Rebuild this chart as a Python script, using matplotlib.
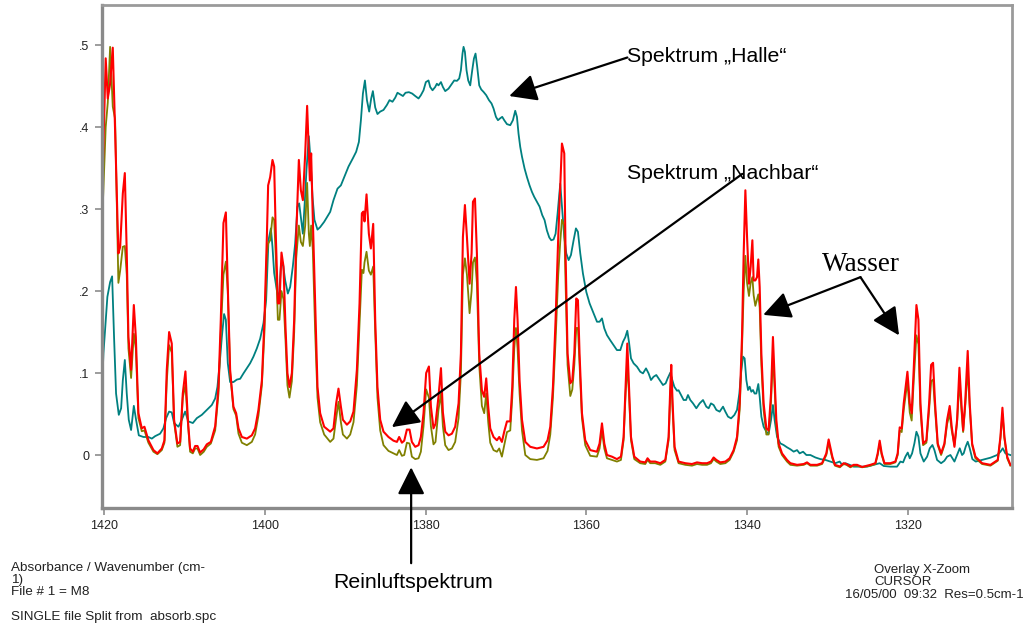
import matplotlib
matplotlib.use("Agg")
import matplotlib.pyplot as plt

plt.rcParams['font.family'] = ['Liberation Sans', 'DejaVu Sans']

# wavenumber grid shared by the clean-air ("Reinluft") and neighbour ("Nachbar") spectra
wn = [
    1420.30, 1420.10, 1419.80, 1419.54, 1419.25, 1418.92, 1418.63, 1418.22, 1418.00, 1417.67,
    1417.42, 1417.18, 1416.97, 1416.64, 1416.30, 1416.05, 1415.73, 1415.31, 1414.98, 1414.49,
    1413.86, 1413.37, 1412.82, 1412.49, 1412.20, 1411.91, 1411.58, 1411.29, 1410.88, 1410.54,
    1410.21, 1409.88, 1409.58, 1409.30, 1408.96, 1408.67, 1408.38, 1408.05, 1407.60, 1407.22,
    1406.72, 1406.18, 1405.77, 1405.48, 1405.15, 1404.85, 1404.61, 1404.32, 1403.91, 1403.57,
    1403.28, 1402.86, 1402.24, 1401.62, 1401.21, 1400.80, 1400.37, 1400.05, 1399.75, 1399.59,
    1399.34, 1399.05, 1398.84, 1398.63, 1398.38, 1398.18, 1397.93, 1397.68, 1397.43, 1397.19,
    1396.94, 1396.64, 1396.35, 1396.10, 1395.77, 1395.52, 1395.27, 1394.98, 1394.74, 1394.53,
    1394.40, 1394.24, 1394.03, 1393.74, 1393.45, 1393.12, 1392.62, 1391.87, 1391.46, 1391.13,
    1390.84, 1390.54, 1390.29, 1389.79, 1389.38, 1388.97, 1388.55, 1388.22, 1387.93, 1387.73,
    1387.60, 1387.35, 1387.06, 1386.81, 1386.52, 1386.27, 1385.99, 1385.65, 1385.24, 1384.62,
    1384.00, 1383.57, 1383.29, 1382.95, 1382.66, 1382.33, 1382.00, 1381.71, 1381.29, 1380.88,
    1380.59, 1380.26, 1379.93, 1379.59, 1379.34, 1379.02, 1378.77, 1378.40, 1378.09, 1377.85,
    1377.56, 1377.15, 1376.73, 1376.32, 1375.90, 1375.61, 1375.36, 1375.11, 1374.86, 1374.53,
    1374.28, 1374.11, 1373.86, 1373.62, 1373.33, 1373.00, 1372.71, 1372.46, 1372.21, 1371.96,
    1371.55, 1371.13, 1370.84, 1370.51, 1370.22, 1369.88, 1369.47, 1369.22, 1368.97, 1368.76,
    1368.56, 1368.31, 1368.01, 1367.60, 1366.98, 1366.15, 1365.33, 1364.83, 1364.49, 1364.16,
    1363.83, 1363.50, 1363.25, 1363.04, 1362.75, 1362.59, 1362.34, 1362.00, 1361.75, 1361.50,
    1361.26, 1361.05, 1360.85, 1360.55, 1360.14, 1359.52, 1358.69, 1358.36, 1358.06, 1357.77,
    1357.44, 1356.82, 1356.20, 1355.70, 1355.37, 1355.12, 1354.91, 1354.70, 1354.45, 1354.04,
    1353.30, 1352.67, 1352.39, 1352.06, 1351.44, 1350.80, 1350.18, 1349.77, 1349.56, 1349.44,
    1349.27, 1349.03, 1348.53, 1347.69, 1346.86, 1346.24, 1345.61, 1344.99, 1344.50, 1344.17,
    1343.83, 1343.34, 1342.71, 1342.18, 1341.68, 1341.26, 1340.93, 1340.64, 1340.43, 1340.22,
    1340.01, 1339.77, 1339.56, 1339.35, 1339.19, 1338.98, 1338.77, 1338.61, 1338.44, 1338.23,
    1337.95, 1337.61, 1337.33, 1337.03, 1336.79, 1336.62, 1336.37, 1336.08, 1335.66, 1335.04,
    1334.62, 1333.79, 1332.96, 1332.55, 1332.13, 1331.30, 1330.68, 1330.15, 1329.86, 1329.40,
    1329.08, 1328.46, 1328.00, 1327.65, 1327.16, 1326.75, 1326.32, 1325.70, 1324.67, 1324.05,
    1323.76, 1323.51, 1323.26, 1322.92, 1322.18, 1321.56, 1321.27, 1321.02, 1320.77, 1320.52,
    1320.06, 1319.77, 1319.53, 1319.28, 1318.94, 1318.69, 1318.44, 1318.11, 1317.70, 1317.36,
    1317.11, 1316.87, 1316.62, 1316.29, 1315.87, 1315.46, 1315.12, 1314.80, 1314.55, 1314.21,
    1313.88, 1313.59, 1313.34, 1313.13, 1312.88, 1312.56, 1312.31, 1312.01, 1311.60, 1310.77,
    1309.73, 1308.82, 1308.49, 1308.24, 1307.99, 1307.65, 1307.25,
]

# spectrum "Nachbar" (red)
nachbar = [
    0.300, 0.370, 0.484, 0.435, 0.453, 0.497, 0.396, 0.246, 0.254, 0.319,
    0.344, 0.246, 0.144, 0.104, 0.183, 0.144, 0.051, 0.0325, 0.0345, 0.018,
    0.006, 0.002, 0.008, 0.018, 0.104, 0.150, 0.136, 0.043, 0.014, 0.016,
    0.075, 0.102, 0.043, 0.008, 0.004, 0.011, 0.011, 0.003, 0.007, 0.013,
    0.016, 0.035, 0.083, 0.165, 0.283, 0.296, 0.205, 0.104, 0.059, 0.051,
    0.0325, 0.022, 0.020, 0.024, 0.0325, 0.055, 0.091, 0.165, 0.266, 0.329,
    0.339, 0.360, 0.352, 0.266, 0.185, 0.185, 0.247, 0.230, 0.156, 0.100,
    0.083, 0.100, 0.165, 0.266, 0.360, 0.323, 0.311, 0.368, 0.426, 0.368,
    0.335, 0.368, 0.287, 0.185, 0.083, 0.051, 0.0345, 0.0285, 0.0325, 0.063,
    0.081, 0.059, 0.043, 0.037, 0.041, 0.053, 0.104, 0.185, 0.295, 0.297,
    0.285, 0.318, 0.270, 0.252, 0.282, 0.165, 0.083, 0.043, 0.0285, 0.022,
    0.0175, 0.016, 0.022, 0.015, 0.0175, 0.031, 0.031, 0.016, 0.010, 0.012,
    0.022, 0.051, 0.100, 0.108, 0.059, 0.0325, 0.038, 0.071, 0.106, 0.052,
    0.0285, 0.024, 0.026, 0.0345, 0.063, 0.124, 0.266, 0.305, 0.266, 0.209,
    0.246, 0.309, 0.313, 0.246, 0.124, 0.079, 0.071, 0.0935, 0.059, 0.0325,
    0.022, 0.018, 0.022, 0.016, 0.0285, 0.041, 0.041, 0.083, 0.165, 0.205,
    0.165, 0.091, 0.043, 0.016, 0.010, 0.008, 0.010, 0.018, 0.0345, 0.083,
    0.165, 0.266, 0.327, 0.380, 0.368, 0.246, 0.124, 0.0875, 0.091, 0.124,
    0.191, 0.189, 0.124, 0.051, 0.018, 0.006, 0.004, 0.014, 0.0386, 0.014,
    0.000, -0.002, -0.005, -0.002, 0.022, 0.083, 0.136, 0.083, 0.022, -0.002,
    -0.008, -0.009, -0.004, -0.008, -0.008, -0.010, -0.006, 0.022, 0.083, 0.110,
    0.063, 0.010, -0.008, -0.010, -0.011, -0.009, -0.010, -0.010, -0.008, -0.003,
    -0.006, -0.009, -0.008, -0.004, 0.006, 0.022, 0.063, 0.144, 0.246, 0.323,
    0.266, 0.209, 0.230, 0.262, 0.213, 0.213, 0.217, 0.2386, 0.205, 0.124,
    0.063, 0.0325, 0.030, 0.075, 0.144, 0.104, 0.043, 0.014, 0.002, -0.006,
    -0.010, -0.012, -0.011, -0.009, -0.012, -0.012, -0.010, 0.002, 0.019, -0.002,
    -0.012, -0.014, -0.010, -0.011, -0.014, -0.012, -0.012, -0.0146, -0.012, -0.010,
    0.002, 0.0175, 0.002, -0.010, -0.010, -0.008, 0.002, 0.0337, 0.0325, 0.063,
    0.1016, 0.063, 0.051, 0.104, 0.183, 0.165, 0.063, 0.014, 0.018, 0.063,
    0.110, 0.1125, 0.063, 0.014, 0.002, 0.014, 0.043, 0.0598, 0.0345, 0.010,
    0.043, 0.1065, 0.063, 0.030, 0.063, 0.127, 0.063, 0.014, -0.002, -0.010,
    -0.012, -0.006, 0.022, 0.0577, 0.022, -0.002, -0.012,
]

# clean-air spectrum (olive)
reinluft = [
    0.270, 0.320, 0.400, 0.430, 0.498, 0.425, 0.410, 0.210, 0.225, 0.254,
    0.255, 0.220, 0.130, 0.094, 0.148, 0.130, 0.045, 0.029, 0.030, 0.015,
    0.004, 0.001, 0.006, 0.015, 0.090, 0.134, 0.125, 0.040, 0.010, 0.012,
    0.070, 0.085, 0.040, 0.004, 0.002, 0.008, 0.008, 0.000, 0.004, 0.010,
    0.014, 0.030, 0.075, 0.150, 0.220, 0.236, 0.200, 0.100, 0.056, 0.048,
    0.026, 0.015, 0.012, 0.016, 0.025, 0.048, 0.085, 0.150, 0.245, 0.258,
    0.262, 0.290, 0.287, 0.240, 0.165, 0.165, 0.200, 0.190, 0.140, 0.085,
    0.070, 0.090, 0.150, 0.240, 0.280, 0.260, 0.255, 0.280, 0.332, 0.270,
    0.255, 0.280, 0.250, 0.150, 0.070, 0.040, 0.025, 0.016, 0.020, 0.045,
    0.065, 0.040, 0.025, 0.020, 0.025, 0.040, 0.085, 0.160, 0.226, 0.222,
    0.235, 0.248, 0.225, 0.220, 0.230, 0.150, 0.070, 0.030, 0.012, 0.005,
    0.002, 0.000, 0.006, -0.001, 0.000, 0.015, 0.014, -0.002, -0.005, -0.004,
    0.004, 0.035, 0.080, 0.070, 0.035, 0.013, 0.016, 0.055, 0.075, 0.035,
    0.012, 0.006, 0.008, 0.016, 0.045, 0.100, 0.220, 0.240, 0.220, 0.173,
    0.200, 0.235, 0.241, 0.210, 0.110, 0.060, 0.051, 0.075, 0.040, 0.015,
    0.006, 0.004, 0.008, -0.002, 0.012, 0.028, 0.030, 0.070, 0.130, 0.155,
    0.130, 0.075, 0.030, 0.000, -0.005, -0.006, -0.004, 0.005, 0.025, 0.070,
    0.140, 0.220, 0.260, 0.287, 0.280, 0.210, 0.110, 0.072, 0.080, 0.110,
    0.155, 0.155, 0.110, 0.045, 0.012, -0.001, -0.002, 0.008, 0.030, 0.008,
    -0.004, -0.006, -0.008, -0.006, 0.018, 0.075, 0.110, 0.075, 0.018, -0.005,
    -0.010, -0.011, -0.006, -0.010, -0.010, -0.012, -0.008, 0.018, 0.075, 0.095,
    0.055, 0.006, -0.010, -0.012, -0.013, -0.011, -0.012, -0.012, -0.010, -0.005,
    -0.008, -0.011, -0.010, -0.006, 0.004, 0.018, 0.055, 0.130, 0.200, 0.243,
    0.210, 0.194, 0.210, 0.217, 0.195, 0.182, 0.190, 0.196, 0.180, 0.110,
    0.055, 0.025, 0.025, 0.065, 0.120, 0.090, 0.035, 0.010, 0.000, -0.008,
    -0.012, -0.013, -0.012, -0.010, -0.013, -0.013, -0.011, 0.000, 0.015, -0.004,
    -0.013, -0.015, -0.011, -0.012, -0.015, -0.013, -0.013, -0.015, -0.013, -0.011,
    0.000, 0.014, 0.000, -0.011, -0.011, -0.009, 0.000, 0.030, 0.028, 0.055,
    0.090, 0.052, 0.042, 0.090, 0.146, 0.135, 0.055, 0.012, 0.015, 0.055,
    0.090, 0.092, 0.055, 0.012, 0.000, 0.012, 0.038, 0.050, 0.030, 0.012,
    0.040, 0.090, 0.055, 0.028, 0.058, 0.105, 0.058, 0.012, -0.004, -0.011,
    -0.013, -0.007, 0.020, 0.050, 0.020, -0.004, -0.013,
]

# spectrum "Halle" (teal), own wavenumber grid
wn_halle = [
    1420.30, 1420.08, 1419.59, 1419.25, 1419.00, 1418.76, 1418.51, 1418.17, 1417.88, 1417.67,
    1417.42, 1417.18, 1416.93, 1416.64, 1416.30, 1416.02, 1415.68, 1415.11, 1414.49, 1414.06,
    1413.65, 1413.03, 1412.62, 1412.28, 1411.91, 1411.58, 1411.29, 1410.75, 1410.33, 1409.92,
    1409.51, 1408.96, 1408.46, 1407.84, 1407.22, 1406.60, 1406.18, 1405.90, 1405.65, 1405.35,
    1405.07, 1404.85, 1404.61, 1404.32, 1403.91, 1403.49, 1403.07, 1402.66, 1402.24, 1401.83,
    1401.42, 1401.00, 1400.58, 1400.17, 1399.84, 1399.55, 1399.25, 1399.05, 1398.84, 1398.51,
    1398.26, 1398.01, 1397.76, 1397.47, 1397.14, 1396.85, 1396.52, 1396.23, 1395.94, 1395.73,
    1395.48, 1395.27, 1395.02, 1394.82, 1394.53, 1394.32, 1394.07, 1393.83, 1393.45, 1393.12,
    1392.62, 1391.87, 1391.46, 1390.96, 1390.54, 1390.13, 1389.59, 1389.05, 1388.64, 1388.30,
    1388.05, 1387.80, 1387.55, 1387.30, 1387.02, 1386.77, 1386.56, 1386.27, 1385.99, 1385.65,
    1385.24, 1384.82, 1384.49, 1384.12, 1383.78, 1383.50, 1383.16, 1382.82, 1382.50, 1382.08,
    1381.67, 1381.29, 1380.88, 1380.59, 1380.26, 1379.97, 1379.64, 1379.43, 1379.14, 1378.81,
    1378.60, 1378.40, 1378.09, 1377.85, 1377.56, 1377.15, 1376.73, 1376.44, 1376.10, 1375.82,
    1375.61, 1375.41, 1375.28, 1375.11, 1374.91, 1374.70, 1374.45, 1374.20, 1373.99, 1373.79,
    1373.58, 1373.33, 1373.08, 1372.79, 1372.46, 1372.12, 1371.80, 1371.55, 1371.25, 1371.00,
    1370.75, 1370.47, 1370.22, 1369.88, 1369.47, 1369.14, 1368.85, 1368.64, 1368.44, 1368.23,
    1368.01, 1367.69, 1367.39, 1367.07, 1366.77, 1366.49, 1366.15, 1365.82, 1365.49, 1365.20,
    1364.91, 1364.62, 1364.37, 1364.08, 1363.83, 1363.58, 1363.25, 1363.04, 1362.75, 1362.50,
    1362.21, 1361.92, 1361.59, 1361.30, 1361.05, 1360.76, 1360.43, 1360.01, 1359.60, 1359.10,
    1358.68, 1358.36, 1358.06, 1357.77, 1357.44, 1357.03, 1356.61, 1356.20, 1355.78, 1355.45,
    1355.16, 1354.91, 1354.70, 1354.45, 1354.12, 1353.70, 1353.30, 1352.96, 1352.58, 1352.26,
    1351.96, 1351.64, 1351.30, 1350.89, 1350.47, 1350.14, 1349.89, 1349.56, 1349.31, 1349.06,
    1348.72, 1348.53, 1348.23, 1347.90, 1347.60, 1347.36, 1347.07, 1346.73, 1346.32, 1345.91,
    1345.49, 1345.08, 1344.79, 1344.50, 1344.17, 1343.83, 1343.42, 1343.00, 1342.71, 1342.38,
    1342.00, 1341.59, 1341.26, 1340.97, 1340.72, 1340.51, 1340.31, 1340.10, 1339.89, 1339.69,
    1339.48, 1339.27, 1339.07, 1338.86, 1338.61, 1338.44, 1338.23, 1337.95, 1337.61, 1337.33,
    1337.03, 1336.79, 1336.58, 1336.28, 1335.87, 1335.46, 1335.04, 1334.62, 1334.21, 1333.79,
    1333.47, 1333.04, 1332.63, 1332.13, 1331.51, 1330.89, 1330.27, 1329.65, 1329.03, 1328.49,
    1328.19, 1327.78, 1327.24, 1326.75, 1325.91, 1325.08, 1324.26, 1323.51, 1323.01, 1322.18,
    1321.35, 1320.93, 1320.60, 1320.31, 1320.02, 1319.77, 1319.48, 1319.19, 1318.94, 1318.69,
    1318.44, 1318.03, 1317.61, 1317.28, 1316.95, 1316.70, 1316.37, 1315.87, 1315.46, 1315.12,
    1314.71, 1314.46, 1314.21, 1313.88, 1313.55, 1313.26, 1313.06, 1312.81, 1312.56, 1312.31,
    1311.98, 1311.56, 1310.77, 1309.73, 1308.90, 1308.49, 1308.20, 1307.87, 1307.25,
]

halle = [
    0.071, 0.124, 0.193, 0.211, 0.218, 0.144, 0.075, 0.049, 0.057, 0.091,
    0.116, 0.075, 0.043, 0.0305, 0.060, 0.043, 0.024, 0.022, 0.022, 0.020,
    0.023, 0.026, 0.0325, 0.045, 0.053, 0.052, 0.039, 0.0345, 0.043, 0.053,
    0.041, 0.039, 0.045, 0.049, 0.055, 0.061, 0.069, 0.083, 0.108, 0.144,
    0.172, 0.165, 0.112, 0.089, 0.089, 0.092, 0.093, 0.0996, 0.106, 0.112,
    0.120, 0.130, 0.142, 0.161, 0.189, 0.262, 0.2765, 0.254, 0.222, 0.201,
    0.189, 0.230, 0.234, 0.213, 0.197, 0.205, 0.230, 0.258, 0.303, 0.307,
    0.287, 0.270, 0.311, 0.348, 0.389, 0.360, 0.315, 0.287, 0.275, 0.278,
    0.2845, 0.2967, 0.311, 0.325, 0.329, 0.339, 0.352, 0.362, 0.370, 0.382,
    0.4085, 0.441, 0.457, 0.433, 0.419, 0.435, 0.444, 0.424, 0.416, 0.419,
    0.421, 0.427, 0.433, 0.431, 0.436, 0.442, 0.440, 0.438, 0.442, 0.4427,
    0.441, 0.438, 0.435, 0.439, 0.445, 0.455, 0.457, 0.449, 0.445, 0.449,
    0.453, 0.451, 0.455, 0.449, 0.444, 0.447, 0.453, 0.457, 0.4565, 0.4594,
    0.4695, 0.4898, 0.498, 0.4918, 0.4695, 0.457, 0.451, 0.4695, 0.4837, 0.4898,
    0.4735, 0.451, 0.446, 0.443, 0.439, 0.433, 0.4289, 0.4228, 0.4126, 0.4085,
    0.4106, 0.4126, 0.4085, 0.4037, 0.4024, 0.4085, 0.420, 0.4126, 0.392, 0.376,
    0.364, 0.3496, 0.339, 0.329, 0.321, 0.315, 0.309, 0.303, 0.2927, 0.2866,
    0.274, 0.2655, 0.262, 0.263, 0.270, 0.2947, 0.331, 0.303, 0.266, 0.246,
    0.2378, 0.244, 0.262, 0.2765, 0.2723, 0.246, 0.2216, 0.199, 0.185, 0.1728,
    0.1626, 0.1626, 0.1667, 0.1545, 0.1463, 0.140, 0.134, 0.128, 0.128, 0.138,
    0.1437, 0.1516, 0.138, 0.1179, 0.1118, 0.1077, 0.1016, 0.0996, 0.1057, 0.0996,
    0.0915, 0.0955, 0.0976, 0.0915, 0.0854, 0.0874, 0.0935, 0.1004, 0.0915, 0.0833,
    0.0784, 0.079, 0.0732, 0.0671, 0.0671, 0.0732, 0.0671, 0.063, 0.057, 0.063,
    0.0671, 0.059, 0.057, 0.063, 0.061, 0.055, 0.0529, 0.059, 0.0529, 0.0468,
    0.0447, 0.0488, 0.055, 0.075, 0.1037, 0.120, 0.1179, 0.0915, 0.0793, 0.0833,
    0.0772, 0.0793, 0.075, 0.075, 0.0866, 0.0711, 0.0468, 0.0345, 0.0284, 0.026,
    0.0427, 0.061, 0.0427, 0.0223, 0.0142, 0.0122, 0.0094, 0.0070, 0.0041, 0.006,
    0.002, 0.004, 0.000, 0.000, -0.003, -0.005, -0.006, -0.008, -0.010, -0.008,
    -0.012, -0.010, -0.012, -0.0142, -0.0142, -0.0142, -0.012, -0.010, -0.0134, -0.0142,
    -0.0142, -0.008, -0.009, -0.002, 0.003, -0.004, 0.002, 0.0142, 0.0284, 0.0223,
    0.002, -0.008, -0.002, 0.0082, 0.0122, 0.006, -0.006, -0.010, -0.007, -0.002,
    0.000, -0.004, -0.008, 0.000, 0.0082, 0.000, 0.002, 0.0102, 0.0162, 0.0082,
    -0.005, -0.008, -0.006, -0.0033, 0.000, 0.004, 0.0082, 0.002, 0.000,
]

x_ticks = [1420, 1400, 1380, 1360, 1340, 1320]
y_ticks = [0.0, 0.1, 0.2, 0.3, 0.4, 0.5]
y_tick_labels = ['0', '.1', '.2', '.3', '.4', '.5']

fig = plt.figure(figsize=(10.27, 6.31), dpi=100)
ax = fig.add_axes([0.099, 0.195, 0.886, 0.797])

ax.plot(wn_halle, halle, color='#008080', lw=1.3)
ax.plot(wn, reinluft, color='#808000', lw=1.3)
ax.plot(wn, nachbar, color='#ff0000', lw=1.5)

ax.set_xlim(1420.3, 1307.1)
ax.set_ylim(-0.0646, 0.549)

ax.set_xticks(x_ticks)
ax.set_xticklabels([str(t) for t in x_ticks])
ax.set_yticks(y_ticks)
ax.set_yticklabels(y_tick_labels)
ax.tick_params(axis='both', direction='out', length=5, width=1.2, color='#8c8c8c',
               labelsize=9, labelcolor='#222222', pad=4)

for side in ['left', 'bottom']:
    ax.spines[side].set_linewidth(2.4)
    ax.spines[side].set_color('#8a8a8a')
for side in ['top', 'right']:
    ax.spines[side].set_linewidth(2.0)
    ax.spines[side].set_color('#9a9a9a')

arrow = dict(arrowstyle='-|>', color='black', lw=1.6, mutation_scale=42,
             shrinkA=0, shrinkB=0)

# labels and arrows
ax.text(1354.9, 0.486, 'Spektrum \u201eHalle\u201c', fontsize=15.3, va='center', ha='left')
ax.annotate('', xy=(1369.6, 0.438), xytext=(1354.9, 0.485), arrowprops=arrow)

ax.text(1354.9, 0.344, 'Spektrum \u201eNachbar\u201c', fontsize=15.3, va='center', ha='left')
ax.annotate('', xy=(1384.2, 0.034), xytext=(1340.6, 0.343), arrowprops=arrow)

ax.text(1325.8, 0.233, 'Wasser', fontsize=19.5, va='center', ha='center',
        family=['Liberation Serif', 'DejaVu Serif'])
ax.annotate('', xy=(1338.0, 0.171), xytext=(1325.9, 0.217), arrowprops=arrow)
ax.annotate('', xy=(1321.1, 0.146), xytext=(1325.9, 0.217), arrowprops=arrow)

ax.annotate('', xy=(1381.8, -0.015), xytext=(1381.8, -0.132), arrowprops=arrow,
            annotation_clip=False)
fig.text(413 / 1027, 1 - 583 / 631, 'Reinluftspektrum', fontsize=15.3, ha='center', va='center')

# footer information
small = dict(fontsize=9.7, color='#222222', va='center', ha='left')
fig.text(11 / 1027, 1 - 568 / 631, 'Absorbance / Wavenumber (cm-', **small)
fig.text(11 / 1027, 1 - 580 / 631, '1)', **small)
fig.text(11 / 1027, 1 - 592 / 631, 'File # 1 = M8', **small)
fig.text(11 / 1027, 1 - 617 / 631, 'SINGLE file Split from  absorb.spc', **small)

info = dict(fontsize=9.5, color='#222222', va='center')
fig.text(874 / 1027, 1 - 570 / 631, 'Overlay X-Zoom', ha='left', **info)
fig.text(874 / 1027, 1 - 582 / 631, 'CURSOR', ha='left', **info)
fig.text(1024 / 1027, 1 - 595 / 631, '16/05/00  09:32  Res=0.5cm-1', ha='right', **info)

fig.savefig('out.png', dpi=100)
